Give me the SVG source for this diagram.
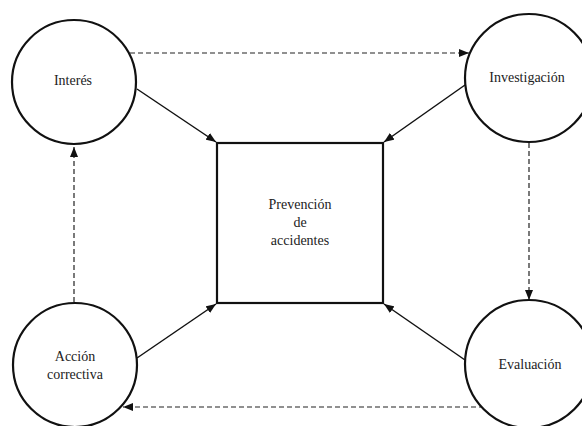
<svg xmlns="http://www.w3.org/2000/svg" width="582" height="426" viewBox="0 0 582 426">
<style>
.node{fill:#fff;stroke:#111;stroke-width:2.2}
.lbl{font-family:"Liberation Serif","Times New Roman",serif;font-size:14px;fill:#222;text-anchor:middle}
.solid{stroke:#111;stroke-width:1.5;fill:none}
.dash{stroke:#222;stroke-width:1.2;fill:none;stroke-dasharray:5 3}
</style>
<defs>
<marker id="ah" viewBox="0 0 10 8" refX="10" refY="4" markerWidth="10" markerHeight="8" markerUnits="userSpaceOnUse" orient="auto">
<path d="M0,0 L10,4 L0,8 Z" fill="#111"/>
</marker>
</defs>
<rect width="582" height="426" fill="#fff"/>
<g id="connectors">
<line class="solid" x1="137" y1="89" x2="216" y2="142" marker-end="url(#ah)"/>
<line class="solid" x1="465" y1="85" x2="384" y2="142" marker-end="url(#ah)"/>
<line class="solid" x1="137" y1="358" x2="216" y2="304" marker-end="url(#ah)"/>
<line class="solid" x1="465" y1="360" x2="384" y2="304" marker-end="url(#ah)"/>
<line class="dash" x1="130" y1="53" x2="469" y2="53" marker-end="url(#ah)"/>
<line class="dash" x1="529" y1="143" x2="529" y2="300" marker-end="url(#ah)"/>
<line class="dash" x1="484" y1="407" x2="123" y2="407" marker-end="url(#ah)"/>
<line class="dash" x1="74" y1="302" x2="74" y2="147" marker-end="url(#ah)"/>
</g>
<g id="prevencion">
<rect x="217" y="143" width="166" height="160" class="node" stroke-width="2.6"/>
<text class="lbl" x="300" y="209">Prevención</text>
<text class="lbl" x="300" y="227">de</text>
<text class="lbl" x="300" y="245">accidentes</text>
</g>
<g id="interes">
<circle cx="74" cy="82" r="62" class="node"/>
<text class="lbl" x="73" y="85">Interés</text>
</g>
<g id="investigacion">
<circle cx="529" cy="78" r="64" class="node"/>
<text class="lbl" x="527" y="82">Investigación</text>
</g>
<g id="evaluacion">
<circle cx="529" cy="364" r="64" class="node"/>
<text class="lbl" x="530" y="369">Evaluación</text>
</g>
<g id="accion">
<circle cx="75" cy="365" r="62" class="node"/>
<text class="lbl" x="75" y="361">Acción</text>
<text class="lbl" x="75" y="379">correctiva</text>
</g>
</svg>
